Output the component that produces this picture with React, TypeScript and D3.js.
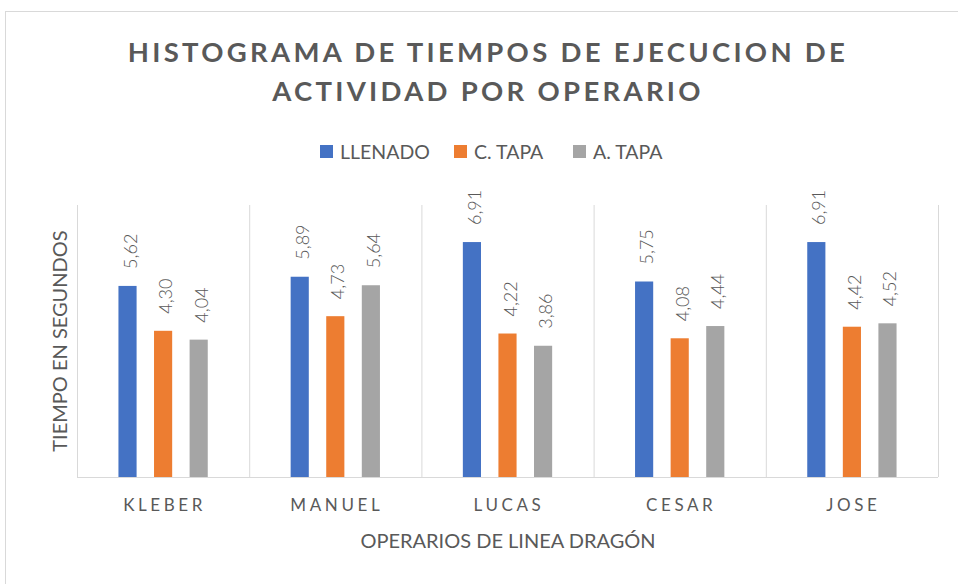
import React from "react";
import * as d3 from "d3";

const operarios = ["KLEBER", "MANUEL", "LUCAS", "CESAR", "JOSE"];
const series = ["LLENADO", "C. TAPA", "A. TAPA"];
const llenado = [5.62, 5.89, 6.91, 5.75, 6.91];
const cTapa = [4.3, 4.73, 4.22, 4.08, 4.42];
const aTapa = [4.04, 5.64, 3.86, 4.44, 4.52];
const colors = ["#4472C4", "#ED7D31", "#A5A5A5"];

const W = 958;
const H = 584;
const plot = { left: 77, right: 938, top: 205, bottom: 477 };

export default function App() {
  const values = [llenado, cTapa, aTapa];

  const x0 = d3.scaleBand<string>()
    .domain(operarios)
    .range([plot.left, plot.right])
    .padding(0);

  const x1 = d3.scaleBand<string>()
    .domain(series)
    .range([0, x0.bandwidth()])
    .paddingInner(0.49)
    .paddingOuter(1.165);

  const y = d3.scaleLinear().domain([0, 8]).range([plot.bottom, plot.top]);

  const fmt = (v: number) => v.toFixed(2).replace(".", ",");
  const font = "Lato, 'Open Sans', sans-serif";
  const txt = "#595959";

  // legend layout (centered like Excel's legend)
  const legendX = [320, 454, 573];

  return (
    <svg
      width={W}
      height={H}
      style={{ position: "absolute", left: 0, top: 0, display: "block", background: "#fff" }}
      fontFamily={font}
    >
      <rect x={5.5} y={11.5} width={W} height={H} fill="#fff" stroke="#d9d9d9" />

      {/* title */}
      <text x={488} y={62} textAnchor="middle" fontSize={27.5} fontWeight="bold" fill={txt} letterSpacing={3.3}>
        HISTOGRAMA DE TIEMPOS DE EJECUCION DE
      </text>
      <text x={488} y={101} textAnchor="middle" fontSize={27.5} fontWeight="bold" fill={txt} letterSpacing={3.3}>
        ACTIVIDAD POR OPERARIO
      </text>

      {/* legend */}
      {series.map((s, i) => (
        <g key={s}>
          <rect x={legendX[i]} y={145} width={13} height={13} fill={colors[i]} />
          <text x={legendX[i] + 20} y={158.5} fontSize={19.5} fill={txt}>{s}</text>
        </g>
      ))}

      {/* vertical separators */}
      {operarios.concat(["_end"]).map((o, i) => {
        const xx = i < operarios.length ? (x0(o) as number) : plot.right;
        return (
          <line key={o} x1={xx + 0.5} x2={xx + 0.5} y1={plot.top} y2={plot.bottom} stroke="#d9d9d9" />
        );
      })}
      <line x1={plot.left} x2={plot.right} y1={plot.bottom + 0.5} y2={plot.bottom + 0.5} stroke="#d9d9d9" />

      {/* bars */}
      {operarios.map((o, ci) => (
        <g key={o} transform={`translate(${x0(o)},0)`}>
          {series.map((s, si) => {
            const v = values[si][ci];
            const bx = x1(s) as number;
            const bw = x1.bandwidth();
            const cx = bx + bw / 2 + 2;
            const ty = y(v) - 17;
            return (
              <g key={s}>
                <rect x={bx} y={y(v)} width={bw} height={plot.bottom - y(v)} fill={colors[si]} />
                <text
                  transform={`translate(${cx},${ty}) rotate(-90)`}
                  dominantBaseline="central"
                  fontSize={18}
                  fontWeight={300}
                  fill={txt}
                >
                  {fmt(v)}
                </text>
              </g>
            );
          })}
        </g>
      ))}

      {/* category labels */}
      {operarios.map((o) => (
        <text
          key={o}
          x={(x0(o) as number) + x0.bandwidth() / 2 + 1.5}
          y={511}
          textAnchor="middle"
          fontSize={17}
          fill={txt}
          letterSpacing={3.6}
        >
          {o}
        </text>
      ))}

      {/* axis titles */}
      <text x={508} y={548} textAnchor="middle" fontSize={20} fill={txt}>
        OPERARIOS DE LINEA DRAGÓN
      </text>
      <text transform="translate(67,341) rotate(-90)" textAnchor="middle" fontSize={20} fill={txt}>
        TIEMPO EN SEGUNDOS
      </text>
    </svg>
  );
}
